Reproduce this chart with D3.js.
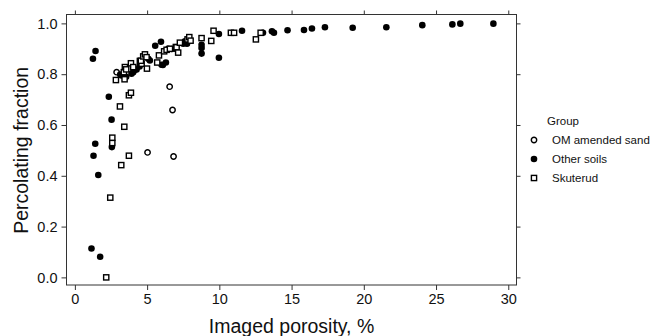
<!DOCTYPE html>
<html>
<head>
<meta charset="utf-8">
<script src="https://cdn.jsdelivr.net/npm/d3@7"></script>
<style>
  html, body { margin: 0; padding: 0; background: #fff; }
  svg { display: block; font-family: "Liberation Sans", Arial, sans-serif; }
</style>
</head>
<body>
<svg id="chart" width="650" height="336"></svg>
<script>
// Percolating fraction vs imaged porosity, three sample groups
const groups = ["OM amended sand", "Other soils", "Skuterud"];

const omAmendedSand = [
  [2.89, 0.808], [5.03, 0.492], [6.56, 0.751], [6.76, 0.659], [6.83, 0.476]
];

const otherSoils = [
  [1.15, 0.114], [1.75, 0.081], [1.29, 0.479], [1.41, 0.526], [1.62, 0.403],
  [1.25, 0.861], [1.43, 0.891], [2.35, 0.711], [2.54, 0.621], [2.56, 0.513],
  [3.14, 0.799], [3.23, 0.795], [3.55, 0.790], [3.92, 0.802], [4.04, 0.808],
  [4.27, 0.818], [4.48, 0.830], [5.08, 0.861], [5.19, 0.854], [5.56, 0.912],
  [5.96, 0.928], [6.09, 0.836], [6.30, 0.846], [6.00, 0.837], [6.46, 0.900],
  [6.69, 0.899], [6.93, 0.900], [7.50, 0.920], [7.62, 0.929], [7.76, 0.920],
  [8.77, 0.916], [8.77, 0.903], [8.77, 0.881], [9.97, 0.958], [9.97, 0.865],
  [11.57, 0.971], [13.02, 0.963], [13.64, 0.969], [13.78, 0.963], [14.72, 0.973],
  [15.86, 0.974], [16.41, 0.980], [17.31, 0.985], [19.23, 0.983], [21.56, 0.985],
  [24.05, 0.993], [26.13, 0.996], [26.68, 0.999], [28.97, 0.999]
];

const skuterud = [
  [2.17, 0.000], [2.45, 0.314], [2.59, 0.529], [2.59, 0.550], [3.21, 0.442],
  [3.74, 0.479], [3.42, 0.593], [3.12, 0.673], [3.74, 0.717], [3.88, 0.727],
  [2.84, 0.777], [3.44, 0.780], [3.39, 0.808], [3.46, 0.828], [3.55, 0.819],
  [3.88, 0.843], [4.04, 0.828], [4.50, 0.852], [4.62, 0.841], [4.57, 0.853],
  [4.73, 0.870], [4.85, 0.878], [4.96, 0.867], [4.99, 0.822], [5.70, 0.846],
  [5.82, 0.874], [6.18, 0.890], [6.35, 0.896], [6.58, 0.900], [6.99, 0.907],
  [7.04, 0.906], [7.15, 0.885], [7.27, 0.924], [7.80, 0.937], [7.92, 0.946],
  [8.01, 0.932], [8.77, 0.942], [9.44, 0.931], [9.60, 0.971], [10.80, 0.963],
  [11.02, 0.963], [12.53, 0.937], [12.86, 0.963]
];

const xTicks = [0, 5, 10, 15, 20, 25, 30];
const yTicks = [0.0, 0.2, 0.4, 0.6, 0.8, 1.0];

const svg = d3.select("#chart");
const box = { left: 66.5, right: 516.5, top: 14.5, bottom: 285 };

const x = d3.scaleLinear().domain([-0.58, 30.57]).range([box.left, box.right]);
const y = d3.scaleLinear().domain([-0.030, 1.035]).range([box.bottom, box.top]);

const frameColor = "#333";

// panel frame
svg.append("rect")
  .attr("x", box.left).attr("y", box.top)
  .attr("width", box.right - box.left).attr("height", box.bottom - box.top)
  .attr("fill", "none").attr("stroke", frameColor).attr("stroke-width", 1);

function styleAxis(g) {
  g.select(".domain").remove();
  g.selectAll(".tick line").attr("stroke", frameColor);
  g.selectAll(".tick text").attr("fill", "#111").style("font-size", "14.5px");
}

svg.append("g")
  .attr("transform", `translate(0,${box.bottom})`)
  .call(d3.axisBottom(x).tickValues(xTicks).tickSize(5).tickPadding(4).tickFormat(d3.format("d")))
  .call(styleAxis);

svg.append("g")
  .attr("transform", `translate(0,${box.top})`)
  .call(d3.axisTop(x).tickValues(xTicks).tickSize(4).tickFormat(""))
  .call(styleAxis);

svg.append("g")
  .attr("transform", `translate(${box.left},0)`)
  .call(d3.axisLeft(y).tickValues(yTicks).tickSize(5).tickPadding(4).tickFormat(d3.format(".1f")))
  .call(styleAxis);

svg.append("g")
  .attr("transform", `translate(${box.right},0)`)
  .call(d3.axisRight(y).tickValues(yTicks).tickSize(4).tickFormat(""))
  .call(styleAxis);

// axis titles
svg.append("text")
  .attr("x", (x(0) + x(30)) / 2).attr("y", 333)
  .attr("text-anchor", "middle")
  .style("font-size", "19.5px").attr("fill", "#111")
  .text("Imaged porosity, %");

svg.append("text")
  .attr("transform", `translate(28,${(y(0) + y(1)) / 2}) rotate(-90)`)
  .attr("text-anchor", "middle")
  .style("font-size", "19.5px").attr("fill", "#111")
  .text("Percolating fraction");

// marker drawers, one per group
const markers = {
  "OM amended sand": (sel) => sel.append("circle").attr("r", 2.7)
      .attr("fill", "#fff").attr("stroke", "#000").attr("stroke-width", 1.4),
  "Other soils": (sel) => sel.append("circle").attr("r", 3.3).attr("fill", "#000"),
  "Skuterud": (sel) => sel.append("rect").attr("x", -2.6).attr("y", -2.6)
      .attr("width", 5.2).attr("height", 5.2)
      .attr("fill", "#fff").attr("stroke", "#000").attr("stroke-width", 1.4)
};

const series = [omAmendedSand, otherSoils, skuterud];
const plot = svg.append("g");

series.forEach((pts, i) => {
  const g = plot.append("g");
  pts.forEach(([px, py]) => {
    const m = g.append("g").attr("transform", `translate(${x(px)},${y(py)})`);
    markers[groups[i]](m);
  });
});

// legend
const legend = svg.append("g").attr("transform", "translate(534,0)");
legend.append("text").attr("x", 13).attr("y", 125)
  .style("font-size", "11.5px").attr("fill", "#111").text("Group");

groups.forEach((name, i) => {
  const cy = 140 + i * 19;
  const m = legend.append("g").attr("transform", `translate(0,${cy})`);
  markers[name](m);
  legend.append("text").attr("x", 18).attr("y", cy + 4)
    .style("font-size", "11.5px").attr("fill", "#111").text(name);
});
</script>
</body>
</html>
